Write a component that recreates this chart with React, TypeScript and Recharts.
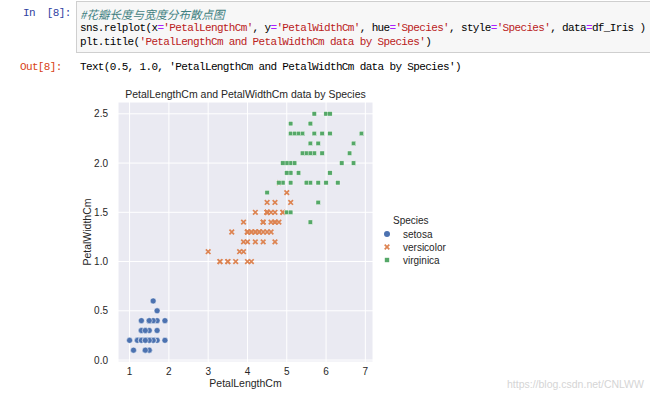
import React from 'react';
import {
  ScatterChart,
  Scatter,
  XAxis,
  YAxis,
  CartesianGrid,
  Label,
} from 'recharts';

const setosaLength = [1.4, 1.4, 1.3, 1.5, 1.4, 1.7, 1.4, 1.5, 1.4, 1.5, 1.5, 1.6, 1.4, 1.1, 1.2, 1.5, 1.3, 1.4, 1.7, 1.5, 1.7, 1.5, 1.0, 1.7, 1.9, 1.6, 1.6, 1.5, 1.4, 1.6, 1.6, 1.5, 1.5, 1.4, 1.5, 1.2, 1.3, 1.4, 1.3, 1.5, 1.3, 1.3, 1.3, 1.6, 1.9, 1.4, 1.6, 1.4, 1.5, 1.4];
const setosaWidth = [0.2, 0.2, 0.2, 0.2, 0.2, 0.4, 0.3, 0.2, 0.2, 0.1, 0.2, 0.2, 0.1, 0.1, 0.2, 0.4, 0.4, 0.3, 0.3, 0.3, 0.2, 0.4, 0.2, 0.5, 0.2, 0.2, 0.4, 0.2, 0.2, 0.2, 0.2, 0.4, 0.1, 0.2, 0.2, 0.2, 0.2, 0.1, 0.2, 0.2, 0.3, 0.3, 0.2, 0.6, 0.4, 0.3, 0.2, 0.2, 0.2, 0.2];

const versicolorLength = [4.7, 4.5, 4.9, 4.0, 4.6, 4.5, 4.7, 3.3, 4.6, 3.9, 3.5, 4.2, 4.0, 4.7, 3.6, 4.4, 4.5, 4.1, 4.5, 3.9, 4.8, 4.0, 4.9, 4.7, 4.3, 4.4, 4.8, 5.0, 4.5, 3.5, 3.8, 3.7, 3.9, 5.1, 4.5, 4.5, 4.7, 4.4, 4.1, 4.0, 4.4, 4.6, 4.0, 3.3, 4.2, 4.2, 4.2, 4.3, 3.0, 4.1];
const versicolorWidth = [1.4, 1.5, 1.5, 1.3, 1.5, 1.3, 1.6, 1.0, 1.3, 1.4, 1.0, 1.5, 1.0, 1.4, 1.3, 1.4, 1.5, 1.0, 1.5, 1.1, 1.8, 1.3, 1.5, 1.2, 1.3, 1.4, 1.4, 1.7, 1.5, 1.0, 1.1, 1.0, 1.2, 1.6, 1.5, 1.6, 1.5, 1.3, 1.3, 1.3, 1.2, 1.4, 1.2, 1.0, 1.3, 1.2, 1.3, 1.3, 1.1, 1.3];

const virginicaLength = [6.0, 5.1, 5.9, 5.6, 5.8, 6.6, 4.5, 6.3, 5.8, 6.1, 5.1, 5.3, 5.5, 5.0, 5.1, 5.3, 5.5, 6.7, 6.9, 5.0, 5.7, 4.9, 6.7, 4.9, 5.7, 6.0, 4.8, 4.9, 5.6, 5.8, 6.1, 6.4, 5.6, 5.1, 5.6, 6.1, 5.6, 5.5, 4.8, 5.4, 5.6, 5.1, 5.1, 5.9, 5.7, 5.2, 5.0, 5.2, 5.4, 5.1];
const virginicaWidth = [2.5, 1.9, 2.1, 1.8, 2.2, 2.1, 1.7, 1.8, 1.8, 2.5, 2.0, 1.9, 2.1, 2.0, 2.4, 2.3, 1.8, 2.2, 2.3, 1.5, 2.3, 2.0, 2.0, 1.8, 2.1, 1.8, 1.8, 1.8, 2.1, 1.6, 1.9, 2.0, 2.2, 1.5, 1.4, 2.3, 2.4, 1.8, 1.8, 2.1, 2.4, 2.3, 1.9, 2.3, 2.5, 2.3, 1.9, 2.0, 2.3, 1.8];

const xTicks = [1, 2, 3, 4, 5, 6, 7];
const yTicks = [0, 0.5, 1.0, 1.5, 2.0, 2.5];
const speciesNames = ['setosa', 'versicolor', 'virginica'];

const BLUE = '#4C72B0';
const ORANGE = '#DD8452';
const GREEN = '#55A868';
const sans = '"Liberation Sans", Arial, sans-serif';

const toPoints = (xs: number[], ys: number[]) => xs.map((x, i) => ({ x, y: ys[i] }));

const xPath = (cx: number, cy: number, s: number) =>
  `M${cx - s},${cy - s}L${cx + s},${cy + s}M${cx + s},${cy - s}L${cx - s},${cy + s}`;

const CircleMark = (props: any) => (
  <circle cx={props.cx} cy={props.cy} r={3} fill={BLUE} stroke="#fff" strokeWidth={0.5} />
);

const XMark = (props: any) => (
  <path d={xPath(props.cx, props.cy, 2.3)} stroke={ORANGE} strokeWidth={1.7} />
);

const SquareMark = (props: any) => (
  <rect x={props.cx - 2.2} y={props.cy - 2.2} width={4.4} height={4.4} fill={GREEN} stroke="#fff" strokeWidth={0.4} />
);

const legendMarks = [
  (cx: number, cy: number) => <circle cx={cx} cy={cy} r={3} fill={BLUE} />,
  (cx: number, cy: number) => <path d={xPath(cx, cy, 2.3)} stroke={ORANGE} strokeWidth={1.7} />,
  (cx: number, cy: number) => <rect x={cx - 2.2} y={cy - 2.2} width={4.4} height={4.4} fill={GREEN} />,
];

const SpeciesLegend = () => (
  <svg width={120} height={60} style={{ position: 'absolute', left: 383, top: 209, fontFamily: sans }}>
    <text x={10} y={15} fontSize={10} fill="#262626">Species</text>
    {speciesNames.map((name, i) => (
      <g key={name}>
        {legendMarks[i](4, 25 + i * 13)}
        <text x={20} y={28.5 + i * 13} fontSize={10} fill="#262626">{name}</text>
      </g>
    ))}
  </svg>
);

const mono = '"Liberation Mono", "DejaVu Sans Mono", "Noto Sans CJK SC", monospace';
const codeStyle: React.CSSProperties = {
  position: 'absolute',
  left: 80,
  fontFamily: mono,
  fontSize: 11,
  letterSpacing: -0.65,
  whiteSpace: 'pre',
  color: '#000',
};
const str = { color: '#BA2121' };
const op = { color: '#AA22FF' };

export default function App() {
  const tickStyle = { fontSize: 10, fill: '#262626', fontFamily: sans };
  return (
    <div style={{ position: 'absolute', left: 0, top: 0, width: 650, height: 397, background: '#fff', overflow: 'hidden' }}>
      <div style={{ position: 'absolute', left: 76, top: 1, width: 590, height: 52, background: '#f7f7f7', border: '1px solid #cfcfcf', boxSizing: 'border-box' }} />
      <div style={{ ...codeStyle, left: 23, top: 7, color: '#303F9F' }}>In  [8]:</div>
      <div style={{ position: 'absolute', left: 80, top: 6, fontFamily: '"Noto Sans CJK SC", sans-serif', fontSize: 11.5, fontStyle: 'italic', color: '#408080', whiteSpace: 'pre' }}>
        #花瓣长度与宽度分布散点图
      </div>
      <div style={{ ...codeStyle, top: 22 }}>
        sns.relplot(x<span style={op}>=</span><span style={str}>'PetalLengthCm'</span>, y<span style={op}>=</span><span style={str}>'PetalWidthCm'</span>, hue<span style={op}>=</span><span style={str}>'Species'</span>, style<span style={op}>=</span><span style={str}>'Species'</span>, data<span style={op}>=</span>df_Iris )
      </div>
      <div style={{ ...codeStyle, top: 36 }}>
        plt.title(<span style={str}>'PetalLengthCm and PetalWidthCm data by Species'</span>)
      </div>
      <div style={{ ...codeStyle, left: 20, top: 61, color: '#D84315' }}>Out[8]:</div>
      <div style={{ ...codeStyle, top: 61 }}>Text(0.5, 1.0, 'PetalLengthCm and PetalWidthCm data by Species')</div>

      <div style={{ position: 'absolute', left: 118, top: 88, width: 255, textAlign: 'center', fontFamily: sans, fontSize: 10.5, color: '#262626', whiteSpace: 'nowrap' }}>
        PetalLengthCm and PetalWidthCm data by Species
      </div>

      <div style={{ position: 'absolute', left: 0, top: 0 }}>
        <ScatterChart width={650} height={397} margin={{ top: 102, right: 277, bottom: 0, left: 78 }}>
          <CartesianGrid stroke="#fff" strokeWidth={1} fill="#EAEAF2" fillOpacity={1} />
          <XAxis
            type="number"
            dataKey="x"
            domain={[0.705, 7.195]}
            ticks={xTicks}
            axisLine={false}
            tickLine={false}
            tickSize={4}
            tickMargin={2}
            height={35}
            tick={tickStyle}
          >
            <Label value="PetalLengthCm" position="insideTop" offset={18} style={{ fontSize: 10.5, fill: '#262626', fontFamily: sans }} />
          </XAxis>
          <YAxis
            type="number"
            dataKey="y"
            domain={[-0.02, 2.62]}
            ticks={yTicks}
            tickFormatter={(v: number) => v.toFixed(1)}
            axisLine={false}
            tickLine={false}
            tickSize={6}
            tickMargin={4}
            width={40}
            tick={tickStyle}
          >
            <Label value="PetalWidthCm" angle={-90} position="insideLeft" offset={9} style={{ fontSize: 10.5, fill: '#262626', fontFamily: sans, textAnchor: 'middle' }} />
          </YAxis>
          <Scatter name="setosa" data={toPoints(setosaLength, setosaWidth)} shape={CircleMark} isAnimationActive={false} />
          <Scatter name="versicolor" data={toPoints(versicolorLength, versicolorWidth)} shape={XMark} isAnimationActive={false} />
          <Scatter name="virginica" data={toPoints(virginicaLength, virginicaWidth)} shape={SquareMark} isAnimationActive={false} />
        </ScatterChart>
      </div>
      <SpeciesLegend />

      <div style={{ position: 'absolute', left: 507, top: 378, fontFamily: sans, fontSize: 10.5, color: '#d5d5d5', whiteSpace: 'nowrap' }}>
        https://blog.csdn.net/CNLWW
      </div>
    </div>
  );
}
